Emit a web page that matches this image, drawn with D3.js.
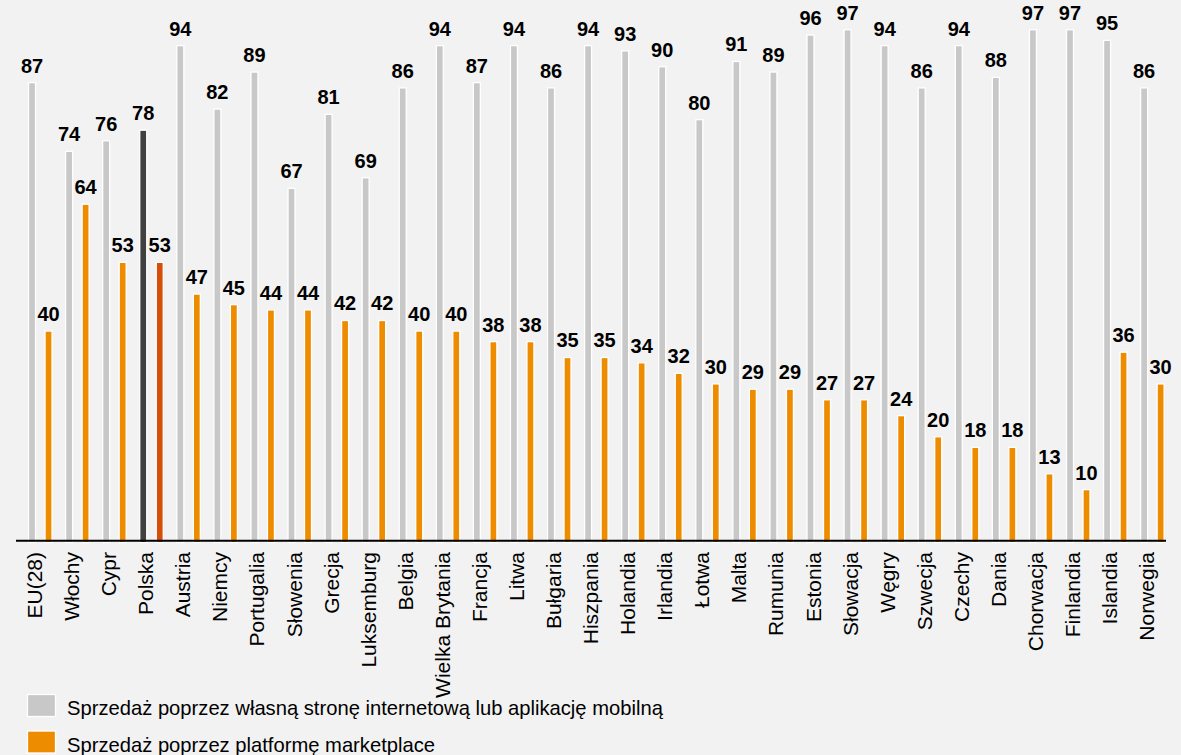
<!DOCTYPE html>
<html>
<head>
<meta charset="utf-8">
<script src="https://cdn.jsdelivr.net/npm/d3@7"></script>
<style>
  html, body { margin: 0; padding: 0; background: #f2f2f2; }
  svg { display: block; font-family: "Liberation Sans", Arial, sans-serif; }
</style>
</head>
<body>
<svg id="chart" width="1181" height="755"></svg>
<script>
const categories = ["EU(28)", "Włochy", "Cypr", "Polska", "Austria", "Niemcy", "Portugalia", "Słowenia", "Grecja", "Luksemburg", "Belgia", "Wielka Brytania", "Francja", "Litwa", "Bułgaria", "Hiszpania", "Holandia", "Irlandia", "Łotwa", "Malta", "Rumunia", "Estonia", "Słowacja", "Węgry", "Szwecja", "Czechy", "Dania", "Chorwacja", "Finlandia", "Islandia", "Norwegia"];
const ownSite = [87, 74, 76, 78, 94, 82, 89, 67, 81, 69, 86, 94, 87, 94, 86, 94, 93, 90, 80, 91, 89, 96, 97, 94, 86, 94, 88, 97, 97, 95, 86];
const marketplace = [40, 64, 53, 53, 47, 45, 44, 44, 42, 42, 40, 40, 38, 38, 35, 35, 34, 32, 30, 29, 29, 27, 27, 24, 20, 18, 18, 13, 10, 36, 30];
const seriesNames = ["Sprzedaż poprzez własną stronę internetową lub aplikację mobilną", "Sprzedaż poprzez platformę marketplace"];
const highlight = "Polska";

const colors = { gray: "#c8c8c8", orange: "#ee8c00", grayHi: "#404040", orangeHi: "#d4500a" };

const svg = d3.select("#chart");
svg.append("rect").attr("width", 1181).attr("height", 755).attr("fill", "#f2f2f2");

const x = d3.scaleBand().domain(categories).range([16.5, 16.5 + 31 * 37.07]).padding(0);
const y = d3.scaleLinear().domain([0, 100]).range([542, 13.4]);
const barW = 7;
const offsets = [-3, 13.5];

const data = categories.map((c, i) => ({ c, vals: [ownSite[i], marketplace[i]] }));

const g = svg.append("g");
data.forEach(d => {
  const cx = x(d.c) + x.bandwidth() / 2;
  d.vals.forEach((v, k) => {
    const bx = cx + offsets[k];
    let fill = k === 0 ? colors.gray : colors.orange;
    if (d.c === highlight) fill = k === 0 ? colors.grayHi : colors.orangeHi;
    g.append("rect")
      .attr("x", bx - barW / 2)
      .attr("y", y(v) + 0.5)
      .attr("width", barW)
      .attr("height", y(0) - y(v))
      .attr("fill", fill)
      .attr("stroke", "#ffffff")
      .attr("stroke-width", 1.3);
    g.append("text")
      .attr("x", bx)
      .attr("y", y(v) - 9.5)
      .attr("text-anchor", "middle")
      .attr("font-size", 20)
      .attr("font-weight", "bold")
      .attr("fill", "#000")
      .text(v);
  });
});

// axis line
svg.append("line")
  .attr("x1", 16).attr("x2", 1166)
  .attr("y1", 540.7).attr("y2", 540.7)
  .attr("stroke", "#000").attr("stroke-width", 2);

// category labels
svg.append("g").selectAll("text").data(categories).join("text")
  .attr("transform", c => `translate(${x(c) + x.bandwidth() / 2 + 7},552) rotate(-90)`)
  .attr("text-anchor", "end")
  .attr("font-size", 21)
  .attr("fill", "#000")
  .text(c => c);

// legend
const legend = svg.append("g");
const legendColors = [colors.gray, colors.orange];
seriesNames.forEach((name, i) => {
  const ly = 694 + i * 36.5;
  legend.append("rect")
    .attr("x", 27.5).attr("y", ly + 0.5)
    .attr("width", 28).attr("height", 22)
    .attr("fill", legendColors[i])
    .attr("stroke", "#ffffff").attr("stroke-width", 1.3);
  legend.append("text")
    .attr("x", 67).attr("y", ly + 21.3)
    .attr("font-size", 20.2)
    .attr("fill", "#000")
    .text(name);
});
</script>
</body>
</html>
